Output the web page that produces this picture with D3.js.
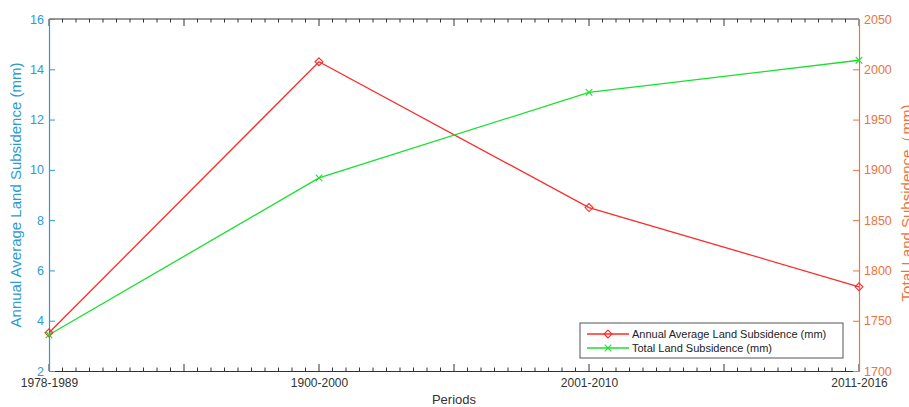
<!DOCTYPE html>
<html>
<head>
<meta charset="utf-8">
<script src="https://cdn.jsdelivr.net/npm/d3@7"></script>
<style>
  body { margin: 0; background: #fff; }
  svg { display: block; font-family: "Liberation Sans", Arial, sans-serif; }
</style>
</head>
<body>
<script>
// data
var periods = ["1978-1989", "1900-2000", "2001-2010", "2011-2016"];
var annualAvg = [3.52, 14.3, 8.5, 5.35];      // mm, left axis
var totalSub = [1736, 1892, 1977, 2009];      // mm, right axis
var leftTicks = [2, 4, 6, 8, 10, 12, 14, 16];
var rightTicks = [1700, 1750, 1800, 1850, 1900, 1950, 2000, 2050];

var width = 909, height = 407;
var plotLeft = 49, plotRight = 859, plotTop = 19, plotBottom = 371;

var blue = "#2b9bd3", orange = "#ec7440", red = "#ff2a2a", green = "#19e02c", dark = "#333";

var svg = d3.select("body").append("svg")
    .attr("width", width)
    .attr("height", height);

var x = d3.scaleLinear().domain([0, periods.length - 1]).range([plotLeft, plotRight]);
var yL = d3.scaleLinear().domain([2, 16]).range([plotBottom, plotTop]);
var yR = d3.scaleLinear().domain([1700, 2050]).range([plotBottom, plotTop]);

// minor and major ticks along x (MATLAB style, inward)
var minor = d3.range(0, 3.0001, 0.05).filter(function (d) { return Math.abs(d * 2 - Math.round(d * 2)) > 1e-6; });
var major = d3.range(0, 3.0001, 0.5);

function xTicks(g, y0, dir) {
    g.selectAll("line.minor").data(minor).enter().append("line")
        .attr("class", "minor")
        .attr("x1", function (d) { return x(d); })
        .attr("x2", function (d) { return x(d); })
        .attr("y1", y0)
        .attr("y2", y0 + dir * 3.5)
        .attr("stroke", dark).attr("stroke-width", 1);
    g.selectAll("line.major").data(major).enter().append("line")
        .attr("class", "major")
        .attr("x1", function (d) { return x(d); })
        .attr("x2", function (d) { return x(d); })
        .attr("y1", y0)
        .attr("y2", y0 + dir * 7)
        .attr("stroke", dark).attr("stroke-width", 1);
}

// bottom axis
var bx = svg.append("g").attr("transform", "translate(0," + plotBottom + ")")
    .call(d3.axisBottom(x).tickValues(d3.range(periods.length))
        .tickFormat(function (d) { return periods[d]; })
        .tickSize(0).tickPadding(7));
bx.select(".domain").attr("stroke", dark);
bx.selectAll("text").attr("fill", dark).attr("font-size", 12).attr("font-family", "Liberation Sans, Arial, sans-serif");
svg.append("g").call(xTicks, plotBottom, -1);

// top border
svg.append("line")
    .attr("x1", plotLeft).attr("x2", plotRight).attr("y1", plotTop).attr("y2", plotTop)
    .attr("stroke", dark).attr("stroke-width", 1);
svg.append("g").call(xTicks, plotTop, 1);

// left axis
var ly = svg.append("g").attr("transform", "translate(" + plotLeft + ",0)")
    .call(d3.axisLeft(yL).tickValues(leftTicks).tickFormat(d3.format("d"))
        .tickSizeInner(-6).tickSizeOuter(0).tickPadding(5));
ly.select(".domain").attr("stroke", blue).attr("stroke-width", 1.2);
ly.selectAll(".tick line").attr("stroke", blue);
ly.selectAll("text").attr("fill", blue).attr("font-size", 12.5).attr("font-family", "Liberation Sans, Arial, sans-serif");

// right axis
var ry = svg.append("g").attr("transform", "translate(" + plotRight + ",0)")
    .call(d3.axisRight(yR).tickValues(rightTicks).tickFormat(d3.format("d"))
        .tickSizeInner(-6).tickSizeOuter(0).tickPadding(5));
ry.select(".domain").attr("stroke", orange).attr("stroke-width", 1.2);
ry.selectAll(".tick line").attr("stroke", orange);
ry.selectAll("text").attr("fill", orange).attr("font-size", 12.5).attr("font-family", "Liberation Sans, Arial, sans-serif");

// axis titles
svg.append("text")
    .attr("transform", "translate(21," + ((plotTop + plotBottom) / 2) + ") rotate(-90)")
    .attr("text-anchor", "middle")
    .attr("fill", blue)
    .attr("font-size", 15)
    .text("Annual Average Land Subsidence (mm)");

svg.append("text")
    .attr("transform", "translate(912," + ((plotTop + plotBottom) / 2 + 8) + ") rotate(-90)")
    .attr("text-anchor", "middle")
    .attr("fill", orange)
    .attr("font-size", 15)
    .text("Total Land Subsidence\uFF08mm)");

svg.append("text")
    .attr("x", (plotLeft + plotRight) / 2)
    .attr("y", 404)
    .attr("text-anchor", "middle")
    .attr("fill", dark)
    .attr("font-size", 13)
    .text("Periods");

// lines
var lineL = d3.line().x(function (d, i) { return x(i); }).y(function (d) { return yL(d); });
var lineR = d3.line().x(function (d, i) { return x(i); }).y(function (d) { return yR(d); });

svg.append("path").datum(annualAvg)
    .attr("d", lineL).attr("fill", "none").attr("stroke", red).attr("stroke-width", 1.3);
svg.append("path").datum(totalSub)
    .attr("d", lineR).attr("fill", "none").attr("stroke", green).attr("stroke-width", 1.3);

var diamond = d3.symbol().type(d3.symbolDiamond2).size(40);
svg.selectAll("path.dia").data(annualAvg).enter().append("path")
    .attr("class", "dia")
    .attr("transform", function (d, i) { return "translate(" + x(i) + "," + yL(d) + ")"; })
    .attr("d", diamond)
    .attr("fill", "none").attr("stroke", red).attr("stroke-width", 1.1);

var cross = d3.symbol().type(d3.symbolX).size(30);
svg.selectAll("path.crs").data(totalSub).enter().append("path")
    .attr("class", "crs")
    .attr("transform", function (d, i) { return "translate(" + x(i) + "," + yR(d) + ")"; })
    .attr("d", cross)
    .attr("fill", "none").attr("stroke", green).attr("stroke-width", 1.1);

// legend
var lg = svg.append("g").attr("transform", "translate(580,323)");
lg.append("rect")
    .attr("width", 263).attr("height", 35)
    .attr("fill", "#fff").attr("stroke", "#555").attr("stroke-width", 1);

var legendItems = [
    { label: "Annual Average Land Subsidence (mm)", color: red, sym: diamond },
    { label: "Total Land Subsidence (mm)", color: green, sym: cross }
];
legendItems.forEach(function (it, i) {
    var yy = 11 + i * 14;
    lg.append("line")
        .attr("x1", 7).attr("x2", 49).attr("y1", yy).attr("y2", yy)
        .attr("stroke", it.color).attr("stroke-width", 1.3);
    lg.append("path")
        .attr("transform", "translate(28," + yy + ")")
        .attr("d", it.sym)
        .attr("fill", "none").attr("stroke", it.color).attr("stroke-width", 1.1);
    lg.append("text")
        .attr("x", 52).attr("y", yy + 4)
        .attr("fill", "#222")
        .attr("font-size", 11)
        .text(it.label);
});
</script>
</body>
</html>
